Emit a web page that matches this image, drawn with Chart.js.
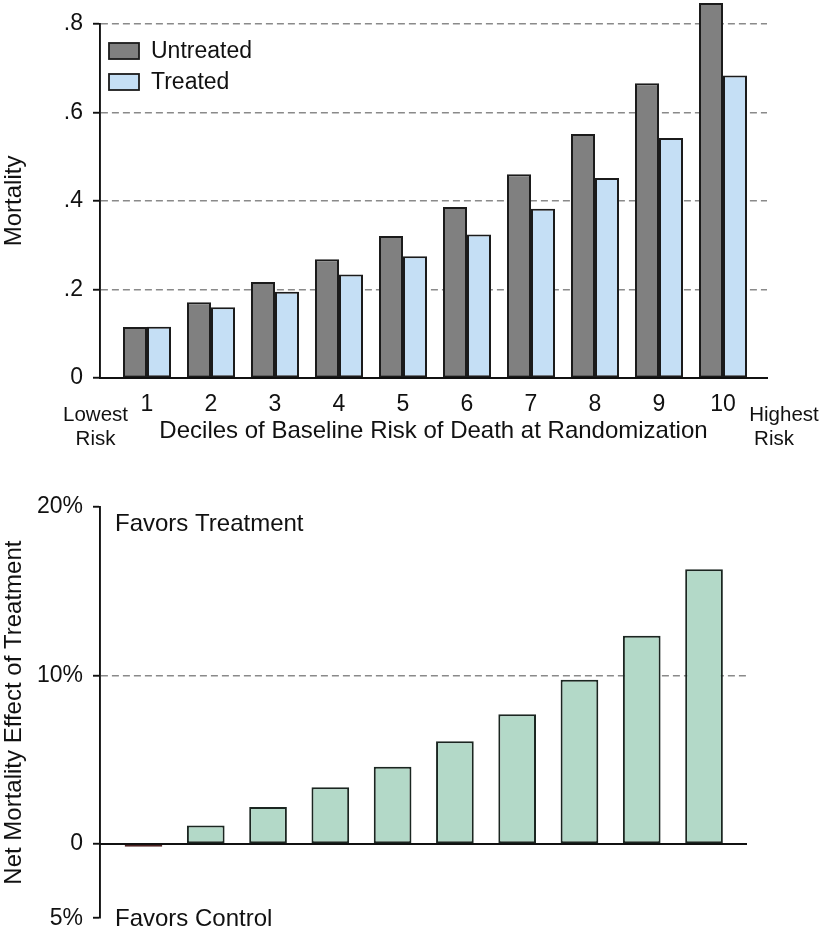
<!DOCTYPE html>
<html>
<head>
<meta charset="utf-8">
<title>Mortality by decile of baseline risk</title>
<script src="https://cdn.jsdelivr.net/npm/chart.js@4.4.1/dist/chart.umd.min.js"></script>
<style>
  html, body { margin: 0; padding: 0; background: #fff; }
  canvas { display: block; }
</style>
</head>
<body>
<canvas id="mortalityChart" width="822" height="465"></canvas>
<canvas id="effectChart" width="822" height="477"></canvas>
<script>
const deciles = [1, 2, 3, 4, 5, 6, 7, 8, 9, 10];
const untreated = [0.115, 0.171, 0.217, 0.268, 0.321, 0.386, 0.46, 0.551, 0.666, 0.847];
const treated = [0.116, 0.16, 0.195, 0.234, 0.275, 0.324, 0.382, 0.452, 0.542, 0.683];
const netEffect = [-0.17, 1.1, 2.19, 3.37, 4.58, 6.1, 7.7, 9.75, 12.35, 16.3];

const mortalityTicks = [0, 0.2, 0.4, 0.6, 0.8];
const mortalityTickLabels = ["0", ".2", ".4", ".6", ".8"];
const effectTicks = [-4.41, 0, 10, 20];
const effectTickLabels = ["5%", "0", "10%", "20%"];

const FONT = '"Liberation Sans", Arial, Helvetica, sans-serif';
const INK = "#111";
const OUTLINE = "#1b1b1b";
const GRID = "#8a8a8a";
const AXIS_W = 1.9;

Chart.defaults.font.family = FONT;
Chart.defaults.color = INK;
Chart.defaults.animation = false;

function points(values) {
  return deciles.map((d, i) => ({ x: d, y: values[i] }));
}

// free text placed in canvas pixels (annotations, not data)
function notesPlugin(items) {
  return {
    id: "notes",
    afterDraw(chart) {
      const ctx = chart.ctx;
      ctx.save();
      ctx.fillStyle = INK;
      ctx.textBaseline = "middle";
      for (const n of items) {
        ctx.font = `${n.size}px ${FONT}`;
        ctx.textAlign = n.align || "center";
        ctx.fillText(n.text, n.x, n.y);
      }
      ctx.restore();
    },
  };
}

// legend drawn inside the plot, top-left
const insideLegend = {
  id: "insideLegend",
  afterDraw(chart) {
    const ctx = chart.ctx;
    ctx.save();
    ctx.font = `23px ${FONT}`;
    ctx.textBaseline = "middle";
    ctx.textAlign = "left";
    chart.data.datasets.forEach((ds, i) => {
      const y = 43 + i * 31;
      ctx.fillStyle = ds.backgroundColor;
      ctx.fillRect(109, y, 30, 16);
      ctx.strokeStyle = OUTLINE;
      ctx.lineWidth = 1.8;
      ctx.strokeRect(109, y, 30, 16);
      ctx.fillStyle = INK;
      ctx.fillText(ds.label, 151, y + 8.5);
    });
    ctx.restore();
  },
};

const sharedBar = {
  borderColor: OUTLINE,
  borderWidth: 2,
  borderSkipped: false,
  clip: false,
};

new Chart(document.getElementById("mortalityChart"), {
  type: "bar",
  data: {
    datasets: [
      {
        label: "Untreated",
        data: points(untreated),
        backgroundColor: "#808080",
        categoryPercentage: 0.75,
        barPercentage: 1,
        ...sharedBar,
      },
      {
        label: "Treated",
        data: points(treated),
        backgroundColor: "#c5dff5",
        categoryPercentage: 0.75,
        barPercentage: 1,
        ...sharedBar,
      },
    ],
  },
  options: {
    responsive: false,
    layout: { padding: { top: 22, right: 55, bottom: 19, left: 0 } },
    plugins: {
      legend: { display: false },
      tooltip: { enabled: false },
    },
    scales: {
      x: {
        type: "linear",
        offset: false,
        min: 0.2656,
        max: 10.6875,
        afterBuildTicks(scale) {
          scale.ticks = deciles.map((v) => ({ value: v }));
        },
        afterFit(scale) {
          scale.height = 68;
        },
        grid: { display: false },
        border: { color: INK, width: AXIS_W },
        ticks: {
          padding: 5,
          autoSkip: false,
          maxRotation: 0,
          font: { size: 23 },
          callback: (v) => String(v),
        },
        title: {
          display: true,
          text: "Deciles of Baseline Risk of Death at Randomization",
          font: { size: 24 },
          padding: 0,
        },
      },
      y: {
        min: 0,
        max: 0.8,
        afterBuildTicks(scale) {
          scale.ticks = mortalityTicks.map((v) => ({ value: v }));
        },
        afterFit(scale) {
          scale.width = 100;
        },
        grid: {
          color: (c) => (c.tick && c.tick.value === 0 ? "rgba(0,0,0,0)" : GRID),
          lineWidth: 1.5,
          tickColor: INK,
          tickWidth: AXIS_W,
          tickLength: 7,
          tickBorderDash: [],
        },
        border: { color: INK, width: AXIS_W, dash: [7, 4] },
        ticks: {
          padding: 10,
          font: { size: 23 },
          callback: (v, i) => mortalityTickLabels[i],
        },
        title: {
          display: true,
          text: "Mortality",
          font: { size: 24 },
          padding: 0,
        },
      },
    },
  },
  plugins: [
    insideLegend,
    notesPlugin([
      { text: "Lowest", x: 95.5, y: 415, size: 20.5 },
      { text: "Risk", x: 95.5, y: 439, size: 20.5 },
      { text: "Highest", x: 784, y: 415, size: 20.5 },
      { text: "Risk", x: 774, y: 439, size: 20.5 },
    ]),
  ],
});

new Chart(document.getElementById("effectChart"), {
  type: "bar",
  data: {
    datasets: [
      {
        label: "Net mortality effect of treatment",
        data: points(netEffect),
        backgroundColor: netEffect.map((v) => (v < 0 ? "#b07a7a" : "#b3d9c8")),
        borderColor: netEffect.map((v) => (v < 0 ? "#4d2222" : "#1b2621")),
        borderWidth: 2,
        borderSkipped: false,
        categoryPercentage: 1,
        barPercentage: 0.605,
      },
    ],
  },
  options: {
    responsive: false,
    layout: { padding: { top: 42, right: 76, bottom: 22, left: 0 } },
    plugins: {
      legend: { display: false },
      tooltip: { enabled: false },
    },
    scales: {
      x: {
        type: "linear",
        axis: "x",
        offset: false,
        position: { y: 0 },
        min: 0.302,
        max: 10.674,
        ticks: { display: false },
        grid: { display: false },
        border: { color: INK, width: AXIS_W },
      },
      y: {
        min: effectTicks[0],
        max: 20,
        afterBuildTicks(scale) {
          scale.ticks = effectTicks.map((v) => ({ value: v }));
        },
        afterFit(scale) {
          scale.width = 100;
        },
        grid: {
          color: (c) => (c.tick && c.tick.value === 10 ? GRID : "rgba(0,0,0,0)"),
          lineWidth: 1.5,
          tickColor: INK,
          tickWidth: AXIS_W,
          tickLength: 7,
          tickBorderDash: [],
        },
        border: { color: INK, width: AXIS_W, dash: [7, 4] },
        ticks: {
          padding: 10,
          font: { size: 23 },
          callback: (v, i) => effectTickLabels[i],
        },
        title: {
          display: true,
          text: "Net Mortality Effect of Treatment",
          font: { size: 24 },
          padding: 0,
        },
      },
    },
  },
  plugins: [
    notesPlugin([
      { text: "Favors Treatment", x: 115, y: 59, size: 24, align: "left" },
      { text: "Favors Control", x: 115, y: 454, size: 24, align: "left" },
    ]),
  ],
});
</script>
</body>
</html>
